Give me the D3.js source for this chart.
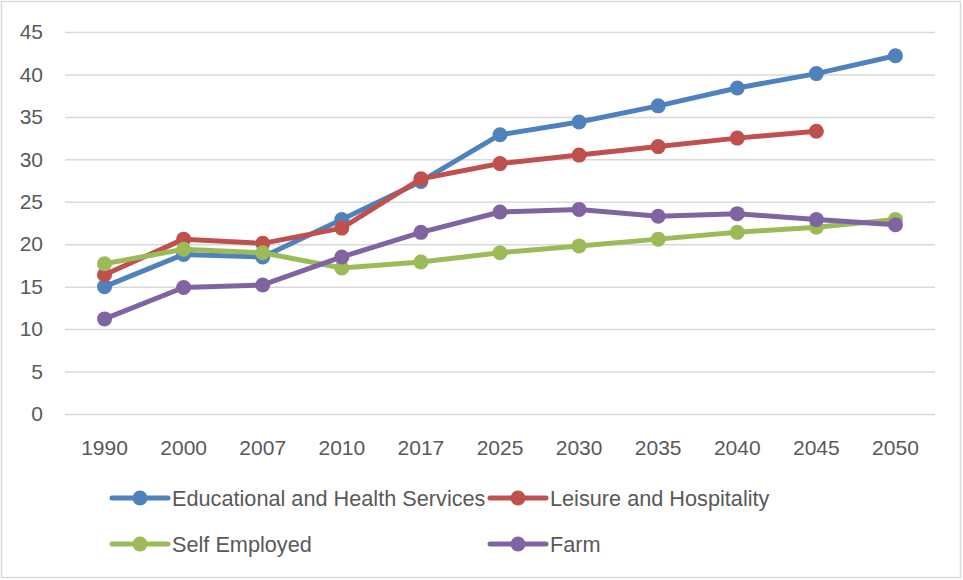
<!DOCTYPE html>
<html>
<head>
<meta charset="utf-8">
<script src="https://cdn.jsdelivr.net/npm/d3@7"></script>
<style>
  html, body { margin: 0; padding: 0; background: #fff; }
  svg { display: block; }
  text { font-family: "Liberation Sans", Arial, sans-serif; fill: #595959; }
</style>
</head>
<body>
<svg id="chart" width="963" height="580"></svg>
<script>
const years = ["1990", "2000", "2007", "2010", "2017", "2025", "2030", "2035", "2040", "2045", "2050"];
const yTicks = [0, 5, 10, 15, 20, 25, 30, 35, 40, 45];

const eduHealth   = [15.0, 18.8, 18.5, 22.9, 27.4, 32.9, 34.4, 36.3, 38.4, 40.1, 42.2];
const leisureHosp = [16.4, 20.6, 20.1, 21.9, 27.7, 29.5, 30.5, 31.5, 32.5, 33.3, null];
const selfEmployed= [17.7, 19.4, 19.0, 17.2, 17.9, 19.0, 19.8, 20.6, 21.4, 22.0, 22.9];
const farm        = [11.2, 14.9, 15.2, 18.5, 21.4, 23.8, 24.1, 23.3, 23.6, 22.9, 22.3];

const seriesNames  = ["Educational and Health Services", "Leisure and Hospitality", "Self Employed", "Farm"];
const seriesColors = ["#4F81BD", "#C0504D", "#9BBB59", "#8064A2"];
const seriesValues = [eduHealth, leisureHosp, selfEmployed, farm];

const svg = d3.select("#chart");
const W = 963, H = 580;
const FONT = "'Liberation Sans', Arial, sans-serif";

// outer chart frame
svg.append("rect")
  .attr("x", 1.5).attr("y", 1.5)
  .attr("width", W - 4).attr("height", H - 4)
  .attr("fill", "#fff").attr("stroke", "#d9d9d9").attr("stroke-width", 1.5);

const plot = { left: 65, right: 935, top: 32, bottom: 414 };

const x = d3.scaleBand().domain(years).range([plot.left, plot.right]);
const y = d3.scaleLinear().domain([0, 45]).range([plot.bottom, plot.top]);

// horizontal gridlines + y labels
const yAxis = d3.axisLeft(y).tickValues(yTicks).tickSize(-(plot.right - plot.left)).tickPadding(22);
const gy = svg.append("g").attr("transform", `translate(${plot.left},0)`).call(yAxis);
gy.select(".domain").remove();
gy.selectAll(".tick line").attr("stroke", "#d9d9d9").attr("stroke-width", 1.5);
gy.selectAll(".tick text").attr("font-size", 21).attr("font-family", FONT).style("fill", "#595959");

// x labels
const xAxis = d3.axisBottom(x).tickSize(0).tickPadding(26);
const gx = svg.append("g").attr("transform", `translate(0,${plot.bottom})`).call(xAxis);
gx.select(".domain").remove();
gx.selectAll(".tick text").attr("font-size", 21).attr("font-family", FONT).style("fill", "#595959");

const cx = d => x(d) + x.bandwidth() / 2;

// series lines and markers
seriesValues.forEach((vals, i) => {
  const pts = years.map((yr, j) => ({ yr, v: vals[j] })).filter(p => p.v != null);
  const line = d3.line().x(p => cx(p.yr)).y(p => y(p.v));
  svg.append("path")
    .datum(pts)
    .attr("d", line)
    .attr("fill", "none")
    .attr("stroke", seriesColors[i])
    .attr("stroke-width", 5)
    .attr("stroke-linejoin", "round");
  svg.append("g").selectAll("circle")
    .data(pts).join("circle")
    .attr("cx", p => cx(p.yr))
    .attr("cy", p => y(p.v))
    .attr("r", 7.5)
    .attr("fill", seriesColors[i]);
});

// legend
const legendPos = [
  { x: 112, y: 498 }, { x: 490, y: 498 },
  { x: 112, y: 544 }, { x: 490, y: 544 }
];
seriesNames.forEach((name, i) => {
  const g = svg.append("g").attr("transform", `translate(${legendPos[i].x},${legendPos[i].y})`);
  g.append("line").attr("x1", 0).attr("x2", 56).attr("y1", 0).attr("y2", 0)
    .attr("stroke", seriesColors[i]).attr("stroke-width", 5).attr("stroke-linecap", "round");
  g.append("circle").attr("cx", 28).attr("cy", 0).attr("r", 7.5).attr("fill", seriesColors[i]);
  g.append("text").attr("x", 60).attr("y", 0).attr("dy", "0.35em")
    .attr("font-size", 21.7).attr("font-family", FONT).text(name);
});
</script>
</body>
</html>
